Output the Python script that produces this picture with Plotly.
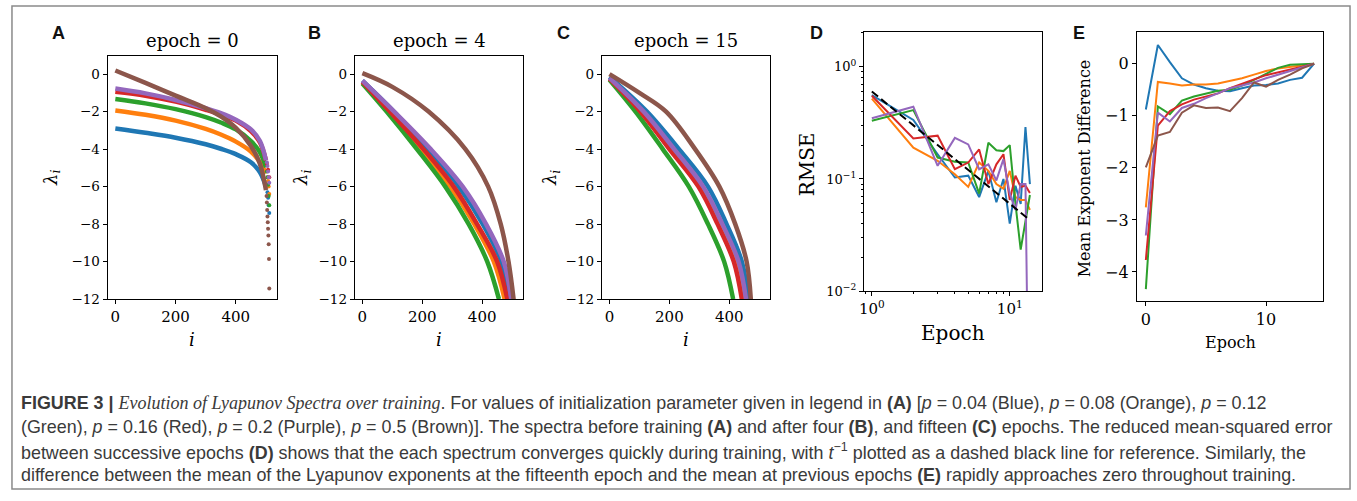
import plotly.graph_objects as go

# ---------------- data ----------------
COLOR_NAMES = ["blue", "orange", "green", "red", "purple", "brown"]

# Panel A (epoch = 0): spectra before training
A_I = [0, 100, 200, 300, 350, 400, 450, 480, 500]
A_VALS = {
    "blue":   [-2.9, -3.13, -3.39, -3.74, -3.98, -4.27, -4.7, -5.23, -6.0],
    "orange": [-1.94, -2.17, -2.48, -2.92, -3.22, -3.6, -4.13, -4.7, -5.3],
    "green":  [-1.33, -1.56, -1.87, -2.29, -2.58, -2.95, -3.57, -4.18, -4.97],
    "red":    [-0.94, -1.15, -1.47, -1.9, -2.15, -2.48, -3.04, -3.65, -4.6],
    "purple": [-0.77, -1.03, -1.38, -1.82, -2.08, -2.43, -2.95, -3.57, -4.6],
    "brown":  [0.19, -0.47, -1.15, -1.82, -2.26, -2.87, -3.83, -4.79, -6.19],
}
A_TAIL_I = {
    "blue":   [505, 507, 509, 511],
    "orange": [505, 507, 509, 511],
    "green":  [503, 505, 507, 509, 511],
    "red":    [503, 507, 511],
    "purple": [503, 505, 507, 509, 511],
    "brown":  [502, 503, 504, 505, 506, 507, 508, 509, 510, 511],
}
A_TAIL_V = {
    "blue":   [-6.3, -6.6, -7.0, -7.4],
    "orange": [-5.5, -5.7, -6.0, -6.4],
    "green":  [-5.2, -5.5, -5.9, -6.5, -7.0],
    "red":    [-4.8, -5.1, -5.5],
    "purple": [-4.7, -4.9, -5.2, -5.5, -5.8],
    "brown":  [-6.5, -6.85, -7.24, -7.59, -7.9, -8.25, -8.6, -9.07, -9.86, -11.43],
}

# Panel B (epoch = 4)
B_I = {
    "blue":   [0, 105, 220, 322, 402, 464, 492],
    "orange": [0, 87, 196, 294, 374, 439, 475],
    "green":  [0, 81, 182, 277, 355, 417, 456],
    "red":    [0, 92, 204, 305, 383, 450, 484],
    "purple": [0, 106, 228, 335, 413, 472, 497],
    "brown":  [0, 100, 221, 344, 420, 462, 488, 505],
}
B_V = {
    "blue":   [-0.35, -2, -4, -6, -8, -10, -12],
    "orange": [-0.45, -2, -4, -6, -8, -10, -12],
    "green":  [-0.5, -2, -4, -6, -8, -10, -12],
    "red":    [-0.4, -2, -4, -6, -8, -10, -12],
    "purple": [-0.35, -2, -4, -6, -8, -10, -12],
    "brown":  [0.05, -0.68, -2, -4, -6, -8, -10, -12],
}

# Panel C (epoch = 15)
C_I = {
    "blue":   [0, 125, 232, 329, 391, 442, 463],
    "orange": [0, 105, 203, 300, 364, 418, 445],
    "green":  [0, 87, 178, 265, 329, 383, 413],
    "red":    [0, 103, 200, 297, 361, 415, 442],
    "purple": [0, 114, 216, 313, 377, 431, 456],
    "brown":  [0, 100, 189, 286, 367, 420, 458, 472],
}
C_V = {
    "blue":   [-0.15, -2, -4, -6, -8, -10, -12],
    "orange": [-0.25, -2, -4, -6, -8, -10, -12],
    "green":  [-0.3, -2, -4, -6, -8, -10, -12],
    "red":    [-0.25, -2, -4, -6, -8, -10, -12],
    "purple": [-0.2, -2, -4, -6, -8, -10, -12],
    "brown":  [0.0, -1.0, -2, -4, -6, -8, -10, -12],
}

# Panel D: RMSE between successive epochs
D_EPOCH = [1, 2, 3, 4, 5, 6, 7, 8, 9, 10, 11, 12, 13, 14]
D_VALS = {
    "blue":   [0.557, 0.335, 0.166, 0.103, 0.107, 0.069, 0.118, 0.062, 0.1, 0.04, 0.087, 0.06, 0.29, 0.09],
    "orange": [0.52, 0.19, 0.145, 0.11, 0.085, 0.14, 0.118, 0.09, 0.082, 0.118, 0.069, 0.065, 0.065, 0.053],
    "green":  [0.33, 0.41, 0.155, 0.142, 0.14, 0.074, 0.21, 0.18, 0.177, 0.2, 0.06, 0.0235, 0.042, 0.072],
    "red":    [0.55, 0.229, 0.243, 0.122, 0.14, 0.183, 0.09, 0.135, 0.166, 0.065, 0.107, 0.085, 0.087, 0.075],
    "purple": [0.347, 0.44, 0.131, 0.232, 0.203, 0.122, 0.135, 0.097, 0.15, 0.074, 0.053, 0.09, 0.09, 0.0001],
}
D_REF = [0.6, 0.3, 0.2, 0.15, 0.12, 0.1, 0.086, 0.075, 0.067, 0.06, 0.055, 0.05, 0.046, 0.043]

# Panel E: mean exponent difference
E_EPOCH = [0, 1, 2, 3, 4, 5, 6, 7, 8, 9, 10, 11, 12, 13, 14]
E_VALS = {
    "blue":   [-0.88, 0.36, 0.03, -0.28, -0.4, -0.47, -0.52, -0.53, -0.47, -0.42, -0.41, -0.38, -0.31, -0.27, 0],
    "orange": [-2.76, -0.35, -0.38, -0.42, -0.4, -0.4, -0.38, -0.33, -0.28, -0.21, -0.14, -0.09, -0.06, -0.03, 0],
    "green":  [-4.33, -0.82, -0.97, -0.71, -0.63, -0.57, -0.52, -0.5, -0.42, -0.31, -0.19, -0.08, -0.02, -0.01, 0],
    "red":    [-3.77, -1.19, -0.91, -0.78, -0.69, -0.63, -0.57, -0.47, -0.38, -0.3, -0.22, -0.17, -0.11, -0.06, 0],
    "purple": [-3.3, -0.94, -1.11, -0.85, -0.77, -0.66, -0.57, -0.47, -0.42, -0.36, -0.28, -0.21, -0.13, -0.06, 0],
    "brown":  [-1.99, -1.38, -1.31, -0.94, -0.8, -0.85, -0.84, -0.91, -0.66, -0.36, -0.44, -0.31, -0.21, -0.09, 0],
}

SPEC_XTICKS = [0, 200, 400]
SPEC_YTICKS = [-12, -10, -8, -6, -4, -2, 0]
E_XTICKS = [0, 10]
E_YTICKS = [-4, -3, -2, -1, 0]
PANEL_TITLES = ["epoch = 0", "epoch = 4", "epoch = 15"]
PANEL_LETTERS = ["A", "B", "C", "D", "E"]

CAPTION = [
    "<b>FIGURE 3 |</b> <span style=\"font-family:Liberation Serif;font-size:18px\"><i>Evolution of Lyapunov Spectra over training</i></span>. "
    "For values of initialization parameter given in legend in <b>(A)</b> [<i>p</i> = 0.04 (Blue), <i>p</i> = 0.08 (Orange), <i>p</i> = 0.12",
    "(Green), <i>p</i> = 0.16 (Red), <i>p</i> = 0.2 (Purple), <i>p</i> = 0.5 (Brown)]. The spectra before training <b>(A)</b> and after four "
    "<b>(B)</b>, and fifteen <b>(C)</b> epochs. The reduced mean-squared error",
    "between successive epochs <b>(D)</b> shows that the each spectrum converges quickly during training, with <i>t</i><sup>\u22121</sup> "
    "plotted as a dashed black line for reference. Similarly, the",
    "difference between the mean of the Lyapunov exponents at the fifteenth epoch and the mean at previous epochs <b>(E)</b> "
    "rapidly approaches zero throughout training.",
]

# ---------------- style ----------------
W, H = 1357, 501
COLORS = {"blue": "#1f77b4", "orange": "#ff7f0e", "green": "#2ca02c",
          "red": "#d62728", "purple": "#9467bd", "brown": "#8c564b"}
SERIF = "DejaVu Serif"
SANS = "Liberation Sans, Arial, sans-serif"


def fx(px):
    return px / W


def fy(py):
    return 1 - py / H


BOXES = {  # left, right, top, bottom (px)
    1: (103, 273, 57, 304),
    2: (351, 520, 57, 304),
    3: (599, 768, 57, 304),
    4: (862, 1041, 33, 296),
    5: (1136, 1323, 33, 306),
}

fig = go.Figure()

ax_common = dict(showline=True, mirror=True, linecolor="black", linewidth=1,
                 ticks="outside", ticklen=4, tickwidth=1, tickcolor="black",
                 showgrid=False, zeroline=False)

layout_axes = {}
for n, (l, r, t, b) in BOXES.items():
    xs = "xaxis" if n == 1 else f"xaxis{n}"
    ys = "yaxis" if n == 1 else f"yaxis{n}"
    ya = "y" if n == 1 else f"y{n}"
    xa = "x" if n == 1 else f"x{n}"
    layout_axes[xs] = dict(ax_common, domain=[fx(l), fx(r)], anchor=ya)
    layout_axes[ys] = dict(ax_common, domain=[fy(b), fy(t)], anchor=xa)

# spectra panels
for n in (1, 2, 3):
    xs = "xaxis" if n == 1 else f"xaxis{n}"
    ys = "yaxis" if n == 1 else f"yaxis{n}"
    layout_axes[xs].update(range=[-25.6, 536.6], tickvals=SPEC_XTICKS,
                           tickfont=dict(family=SERIF, size=15, color="black"))
    layout_axes[ys].update(range=[-12, 0.96], tickvals=SPEC_YTICKS,
                           tickfont=dict(family=SERIF, size=13.5, color="black"))

layout_axes["xaxis4"].update(type="log", range=[-0.058, 1.235], tickvals=[1, 10],
                             ticktext=["10<sup>0</sup>", "10<sup>1</sup>"],
                             tickfont=dict(family=SERIF, size=15, color="black"),
                             minor=dict(ticks="outside", ticklen=2, tickcolor="black", dtick="D1"))
layout_axes["yaxis4"].update(type="log", range=[-2, 0.304], tickvals=[0.01, 0.1, 1],
                             ticktext=["10<sup>\u22122</sup>", "10<sup>\u22121</sup>", "10<sup>0</sup>"],
                             tickfont=dict(family=SERIF, size=13, color="black"),
                             minor=dict(ticks="outside", ticklen=2, tickcolor="black", dtick="D1"))
layout_axes["xaxis5"].update(range=[-0.75, 14.75], tickvals=E_XTICKS,
                             tickfont=dict(family=SERIF, size=16, color="black"))
layout_axes["yaxis5"].update(range=[-4.56, 0.6], tickvals=E_YTICKS,
                             tickfont=dict(family=SERIF, size=16, color="black"))

# traces A
for name in COLOR_NAMES:
    fig.add_trace(go.Scatter(x=A_I, y=A_VALS[name], mode="lines",
                             line=dict(color=COLORS[name], width=4.5, shape="spline"),
                             xaxis="x", yaxis="y", showlegend=False, hoverinfo="skip"))
    fig.add_trace(go.Scatter(x=A_TAIL_I[name], y=A_TAIL_V[name], mode="markers",
                             marker=dict(color=COLORS[name], size=4),
                             xaxis="x", yaxis="y", showlegend=False, hoverinfo="skip"))
for name in COLOR_NAMES:
    fig.add_trace(go.Scatter(x=B_I[name], y=B_V[name], mode="lines",
                             line=dict(color=COLORS[name], width=4.5, shape="spline"),
                             xaxis="x2", yaxis="y2", showlegend=False, hoverinfo="skip"))
for name in COLOR_NAMES:
    fig.add_trace(go.Scatter(x=C_I[name], y=C_V[name], mode="lines",
                             line=dict(color=COLORS[name], width=4.5, shape="spline"),
                             xaxis="x3", yaxis="y3", showlegend=False, hoverinfo="skip"))
for name in ["blue", "orange", "green", "red", "purple"]:
    fig.add_trace(go.Scatter(x=D_EPOCH, y=D_VALS[name], mode="lines",
                             line=dict(color=COLORS[name], width=2),
                             xaxis="x4", yaxis="y4", showlegend=False, hoverinfo="skip"))
fig.add_trace(go.Scatter(x=D_EPOCH, y=D_REF, mode="lines",
                         line=dict(color="black", width=2, dash="8px,4px"),
                         xaxis="x4", yaxis="y4", showlegend=False, hoverinfo="skip"))
for name in COLOR_NAMES:
    fig.add_trace(go.Scatter(x=E_EPOCH, y=E_VALS[name], mode="lines",
                             line=dict(color=COLORS[name], width=2),
                             xaxis="x5", yaxis="y5", showlegend=False, hoverinfo="skip"))

annotations = []


def ann(text, x, y, size, family=SERIF, angle=0, color="black", xanchor="center"):
    annotations.append(dict(text=text, x=fx(x), y=fy(y), xref="paper", yref="paper",
                            showarrow=False, textangle=angle, xanchor=xanchor, yanchor="middle",
                            font=dict(family=family, size=size, color=color)))


# titles
for title, cx in zip(PANEL_TITLES, [188, 436, 684]):
    ann(title, cx, 41, 18)
# letters
for letter, cx in zip(PANEL_LETTERS, [54, 311, 561, 815, 1078]):
    ann(f"<b>{letter}</b>", cx, 34, 18, family=SANS, color="#111")
# axis labels A-C
for cx_y, cx_x in zip([47, 298, 548], [188, 436, 684]):
    ann("<i>\u03bb</i><sub><i>i</i></sub>", cx_y, 181, 18, angle=-90)
    ann("<i>i</i>", cx_x, 345, 18)
ann("RMSE", 805, 167, 20, angle=-90)
ann("Epoch", 952, 338, 20)
ann("Mean Exponent Difference", 1083, 171, 16, angle=-90)
ann("Epoch", 1230, 348, 16)

# caption
for k, line in enumerate(CAPTION):
    annotations.append(dict(text=line, x=fx(14), y=fy(410 + 24.3 * k), xref="paper", yref="paper",
                            showarrow=False, xanchor="left", yanchor="middle", align="left",
                            font=dict(family=SANS, size=17.9, color="#3a3a3a")))

fig.update_layout(
    width=W, height=H, margin=dict(l=0, r=0, t=0, b=0),
    paper_bgcolor="white", plot_bgcolor="white",
    annotations=annotations,
    shapes=[dict(type="rect", xref="paper", yref="paper", x0=fx(7), x1=fx(1350), y0=fy(497), y1=fy(6),
                 line=dict(color="#8a8a8a", width=1.5))],
    **layout_axes,
)

fig.write_html("out.html", config={"displayModeBar": False},
               post_script="document.body.style.margin='0px';document.body.style.overflow='hidden';")
